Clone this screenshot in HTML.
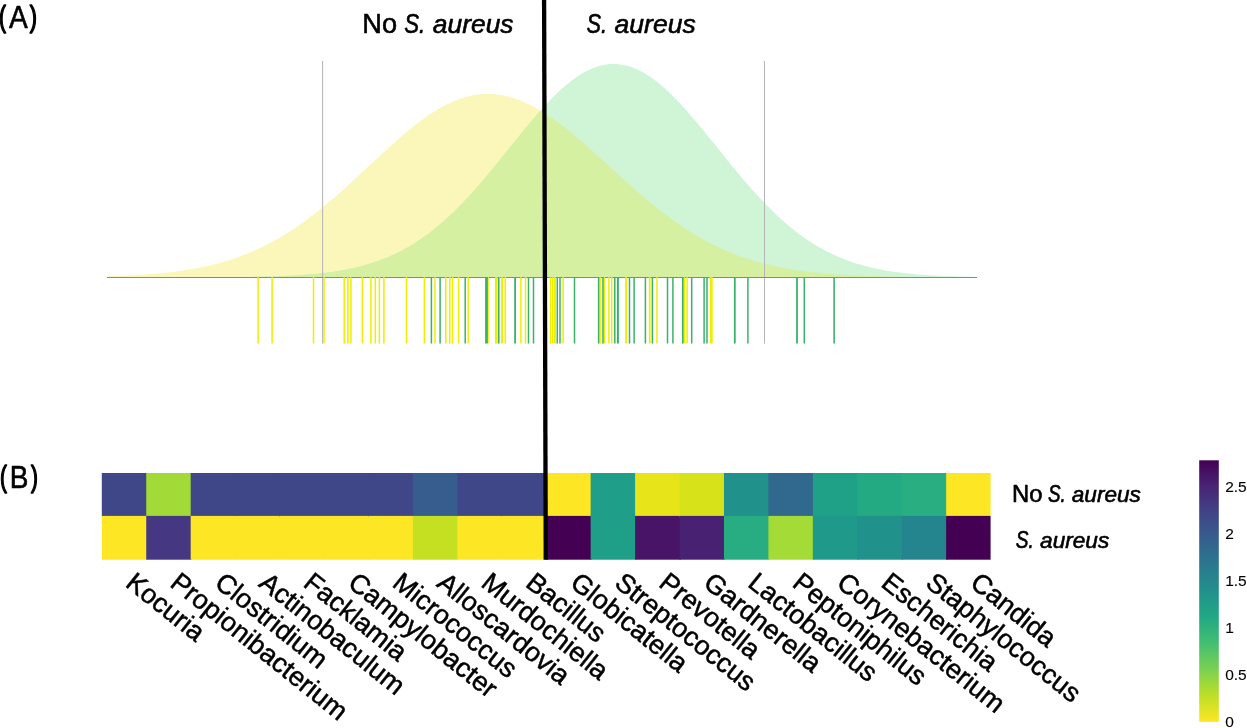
<!DOCTYPE html>
<html><head><meta charset="utf-8"><title>Figure</title>
<style>
html,body{margin:0;padding:0;background:#fff;}
body{width:1247px;height:728px;overflow:hidden;font-family:"Liberation Sans",sans-serif;}
svg{display:block;}
svg text{font-family:"Liberation Sans",sans-serif;fill:#000;}
.it{font-style:italic;}
</style></head><body>
<svg width="1247" height="728" viewBox="0 0 1247 728">
<rect x="0" y="0" width="1247" height="728" fill="#ffffff"/>
<path d="M107.0,277.40 L107.0,276.31 L110.0,276.22 L113.0,276.12 L116.0,276.02 L119.0,275.91 L122.0,275.79 L125.0,275.66 L128.0,275.52 L131.0,275.37 L134.0,275.21 L137.0,275.04 L140.0,274.86 L143.0,274.66 L146.0,274.46 L149.0,274.23 L152.0,274.00 L155.0,273.75 L158.0,273.48 L161.0,273.20 L164.0,272.90 L167.0,272.58 L170.0,272.24 L173.0,271.88 L176.0,271.51 L179.0,271.10 L182.0,270.68 L185.0,270.23 L188.0,269.76 L191.0,269.26 L194.0,268.73 L197.0,268.17 L200.0,267.59 L203.0,266.98 L206.0,266.33 L209.0,265.65 L212.0,264.94 L215.0,264.19 L218.0,263.41 L221.0,262.59 L224.0,261.73 L227.0,260.83 L230.0,259.89 L233.0,258.91 L236.0,257.89 L239.0,256.83 L242.0,255.72 L245.0,254.56 L248.0,253.36 L251.0,252.12 L254.0,250.82 L257.0,249.48 L260.0,248.09 L263.0,246.64 L266.0,245.15 L269.0,243.61 L272.0,242.01 L275.0,240.36 L278.0,238.66 L281.0,236.91 L284.0,235.11 L287.0,233.25 L290.0,231.35 L293.0,229.39 L296.0,227.38 L299.0,225.32 L302.0,223.20 L305.0,221.04 L308.0,218.83 L311.0,216.57 L314.0,214.27 L317.0,211.92 L320.0,209.52 L323.0,207.08 L326.0,204.60 L329.0,202.09 L332.0,199.53 L335.0,196.94 L338.0,194.32 L341.0,191.66 L344.0,188.98 L347.0,186.27 L350.0,183.53 L353.0,180.78 L356.0,178.01 L359.0,175.23 L362.0,172.43 L365.0,169.63 L368.0,166.82 L371.0,164.01 L374.0,161.20 L377.0,158.40 L380.0,155.61 L383.0,152.84 L386.0,150.08 L389.0,147.35 L392.0,144.64 L395.0,141.96 L398.0,139.31 L401.0,136.71 L404.0,134.14 L407.0,131.62 L410.0,129.15 L413.0,126.74 L416.0,124.38 L419.0,122.09 L422.0,119.86 L425.0,117.70 L428.0,115.62 L431.0,113.61 L434.0,111.69 L437.0,109.84 L440.0,108.09 L443.0,106.43 L446.0,104.86 L449.0,103.38 L452.0,102.01 L455.0,100.74 L458.0,99.57 L461.0,98.51 L464.0,97.55 L467.0,96.71 L470.0,95.98 L473.0,95.36 L476.0,94.86 L479.0,94.47 L482.0,94.20 L485.0,94.04 L488.0,94.00 L491.0,94.08 L494.0,94.26 L497.0,94.56 L500.0,94.97 L503.0,95.49 L506.0,96.11 L509.0,96.85 L512.0,97.69 L515.0,98.64 L518.0,99.69 L521.0,100.84 L524.0,102.09 L527.0,103.44 L530.0,104.88 L533.0,106.42 L536.0,108.04 L539.0,109.76 L542.0,111.55 L545.0,113.43 L548.0,115.38 L551.0,117.41 L554.0,119.51 L557.0,121.68 L560.0,123.91 L563.0,126.20 L566.0,128.55 L569.0,130.95 L572.0,133.40 L575.0,135.89 L578.0,138.43 L581.0,141.00 L584.0,143.61 L587.0,146.25 L590.0,148.91 L593.0,151.60 L596.0,154.31 L599.0,157.03 L602.0,159.76 L605.0,162.50 L608.0,165.25 L611.0,167.99 L614.0,170.74 L617.0,173.48 L620.0,176.21 L623.0,178.92 L626.0,181.63 L629.0,184.32 L632.0,186.98 L635.0,189.62 L638.0,192.24 L641.0,194.83 L644.0,197.39 L647.0,199.92 L650.0,202.42 L653.0,204.87 L656.0,207.29 L659.0,209.67 L662.0,212.01 L665.0,214.31 L668.0,216.56 L671.0,218.77 L674.0,220.94 L677.0,223.05 L680.0,225.12 L683.0,227.14 L686.0,229.12 L689.0,231.04 L692.0,232.91 L695.0,234.74 L698.0,236.51 L701.0,238.23 L704.0,239.91 L707.0,241.53 L710.0,243.11 L713.0,244.63 L716.0,246.11 L719.0,247.54 L722.0,248.92 L725.0,250.26 L728.0,251.54 L731.0,252.78 L734.0,253.98 L737.0,255.13 L740.0,256.24 L743.0,257.30 L746.0,258.32 L749.0,259.31 L752.0,260.25 L755.0,261.15 L758.0,262.02 L761.0,262.84 L764.0,263.63 L767.0,264.39 L770.0,265.11 L773.0,265.80 L776.0,266.46 L779.0,267.08 L782.0,267.68 L785.0,268.25 L788.0,268.79 L791.0,269.30 L794.0,269.79 L797.0,270.25 L800.0,270.69 L803.0,271.10 L806.0,271.49 L809.0,271.87 L812.0,272.22 L815.0,272.55 L818.0,272.86 L821.0,273.16 L824.0,273.44 L827.0,273.70 L830.0,273.95 L833.0,274.18 L836.0,274.40 L839.0,274.61 L842.0,274.80 L845.0,274.98 L848.0,275.15 L851.0,275.31 L854.0,275.46 L857.0,275.60 L860.0,275.73 L863.0,275.85 L866.0,275.97 L869.0,276.07 L872.0,276.17 L875.0,276.27 L878.0,276.35 L881.0,276.43 L884.0,276.51 L887.0,276.58 L890.0,276.64 L893.0,276.70 L896.0,276.76 L899.0,276.81 L902.0,276.86 L905.0,276.90 L908.0,276.94 L911.0,276.98 L914.0,277.01 L917.0,277.05 L920.0,277.08 L923.0,277.10 L926.0,277.13 L929.0,277.15 L932.0,277.17 L935.0,277.19 L938.0,277.21 L941.0,277.23 L944.0,277.24 L947.0,277.26 L950.0,277.27 L953.0,277.28 L956.0,277.29 L959.0,277.30 L962.0,277.31 L965.0,277.32 L968.0,277.33 L971.0,277.33 L974.0,277.34 L977.0,277.35 L977.0,277.40 Z" fill="#fbf6ba"/>
<path d="M107.0,277.40 L107.0,277.40 L110.0,277.40 L113.0,277.40 L116.0,277.40 L119.0,277.40 L122.0,277.40 L125.0,277.40 L128.0,277.40 L131.0,277.40 L134.0,277.39 L137.0,277.39 L140.0,277.39 L143.0,277.39 L146.0,277.39 L149.0,277.39 L152.0,277.39 L155.0,277.39 L158.0,277.39 L161.0,277.38 L164.0,277.38 L167.0,277.38 L170.0,277.38 L173.0,277.37 L176.0,277.37 L179.0,277.37 L182.0,277.36 L185.0,277.36 L188.0,277.35 L191.0,277.34 L194.0,277.34 L197.0,277.33 L200.0,277.32 L203.0,277.31 L206.0,277.30 L209.0,277.29 L212.0,277.28 L215.0,277.26 L218.0,277.25 L221.0,277.23 L224.0,277.21 L227.0,277.19 L230.0,277.16 L233.0,277.14 L236.0,277.11 L239.0,277.07 L242.0,277.04 L245.0,277.00 L248.0,276.96 L251.0,276.91 L254.0,276.86 L257.0,276.80 L260.0,276.74 L263.0,276.67 L266.0,276.60 L269.0,276.52 L272.0,276.43 L275.0,276.33 L278.0,276.23 L281.0,276.11 L284.0,275.99 L287.0,275.85 L290.0,275.71 L293.0,275.55 L296.0,275.38 L299.0,275.19 L302.0,274.99 L305.0,274.78 L308.0,274.55 L311.0,274.29 L314.0,274.02 L317.0,273.73 L320.0,273.42 L323.0,273.09 L326.0,272.73 L329.0,272.34 L332.0,271.93 L335.0,271.48 L338.0,271.01 L341.0,270.51 L344.0,269.97 L347.0,269.40 L350.0,268.79 L353.0,268.14 L356.0,267.45 L359.0,266.71 L362.0,265.94 L365.0,265.11 L368.0,264.24 L371.0,263.32 L374.0,262.35 L377.0,261.32 L380.0,260.24 L383.0,259.10 L386.0,257.90 L389.0,256.63 L392.0,255.31 L395.0,253.92 L398.0,252.46 L401.0,250.94 L404.0,249.34 L407.0,247.68 L410.0,245.94 L413.0,244.13 L416.0,242.24 L419.0,240.27 L422.0,238.23 L425.0,236.11 L428.0,233.91 L431.0,231.64 L434.0,229.28 L437.0,226.84 L440.0,224.33 L443.0,221.74 L446.0,219.07 L449.0,216.32 L452.0,213.49 L455.0,210.59 L458.0,207.62 L461.0,204.57 L464.0,201.46 L467.0,198.28 L470.0,195.03 L473.0,191.72 L476.0,188.35 L479.0,184.93 L482.0,181.45 L485.0,177.93 L488.0,174.36 L491.0,170.76 L494.0,167.12 L497.0,163.45 L500.0,159.76 L503.0,156.05 L506.0,152.32 L509.0,148.59 L512.0,144.86 L515.0,141.13 L518.0,137.41 L521.0,133.71 L524.0,130.04 L527.0,126.40 L530.0,122.80 L533.0,119.24 L536.0,115.74 L539.0,112.29 L542.0,108.92 L545.0,105.61 L548.0,102.39 L551.0,99.26 L554.0,96.22 L557.0,93.28 L560.0,90.45 L563.0,87.73 L566.0,85.14 L569.0,82.67 L572.0,80.33 L575.0,78.13 L578.0,76.08 L581.0,74.17 L584.0,72.41 L587.0,70.82 L590.0,69.38 L593.0,68.11 L596.0,67.00 L599.0,66.06 L602.0,65.30 L605.0,64.71 L608.0,64.30 L611.0,64.06 L614.0,64.00 L617.0,64.12 L620.0,64.42 L623.0,64.89 L626.0,65.54 L629.0,66.36 L632.0,67.35 L635.0,68.51 L638.0,69.84 L641.0,71.33 L644.0,72.98 L647.0,74.79 L650.0,76.75 L653.0,78.85 L656.0,81.10 L659.0,83.48 L662.0,85.99 L665.0,88.62 L668.0,91.38 L671.0,94.25 L674.0,97.22 L677.0,100.29 L680.0,103.46 L683.0,106.71 L686.0,110.03 L689.0,113.43 L692.0,116.90 L695.0,120.42 L698.0,123.99 L701.0,127.61 L704.0,131.26 L707.0,134.94 L710.0,138.65 L713.0,142.37 L716.0,146.10 L719.0,149.83 L722.0,153.56 L725.0,157.28 L728.0,160.99 L731.0,164.68 L734.0,168.34 L737.0,171.97 L740.0,175.56 L743.0,179.11 L746.0,182.62 L749.0,186.08 L752.0,189.48 L755.0,192.83 L758.0,196.12 L761.0,199.34 L764.0,202.50 L767.0,205.60 L770.0,208.62 L773.0,211.57 L776.0,214.44 L779.0,217.24 L782.0,219.96 L785.0,222.61 L788.0,225.18 L791.0,227.67 L794.0,230.07 L797.0,232.40 L800.0,234.65 L803.0,236.83 L806.0,238.92 L809.0,240.94 L812.0,242.87 L815.0,244.74 L818.0,246.53 L821.0,248.24 L824.0,249.88 L827.0,251.45 L830.0,252.96 L833.0,254.39 L836.0,255.76 L839.0,257.06 L842.0,258.30 L845.0,259.48 L848.0,260.60 L851.0,261.67 L854.0,262.68 L857.0,263.63 L860.0,264.54 L863.0,265.39 L866.0,266.20 L869.0,266.96 L872.0,267.68 L875.0,268.36 L878.0,268.99 L881.0,269.59 L884.0,270.15 L887.0,270.68 L890.0,271.17 L893.0,271.63 L896.0,272.07 L899.0,272.47 L902.0,272.85 L905.0,273.20 L908.0,273.53 L911.0,273.83 L914.0,274.12 L917.0,274.38 L920.0,274.63 L923.0,274.85 L926.0,275.06 L929.0,275.26 L932.0,275.44 L935.0,275.61 L938.0,275.76 L941.0,275.90 L944.0,276.03 L947.0,276.15 L950.0,276.26 L953.0,276.36 L956.0,276.46 L959.0,276.54 L962.0,276.62 L965.0,276.69 L968.0,276.76 L971.0,276.82 L974.0,276.88 L977.0,276.93 L977.0,277.40 Z" fill="#cff4d6"/>
<path d="M107.0,277.40 L107.0,277.40 L110.0,277.40 L113.0,277.40 L116.0,277.40 L119.0,277.40 L122.0,277.40 L125.0,277.40 L128.0,277.40 L131.0,277.40 L134.0,277.39 L137.0,277.39 L140.0,277.39 L143.0,277.39 L146.0,277.39 L149.0,277.39 L152.0,277.39 L155.0,277.39 L158.0,277.39 L161.0,277.38 L164.0,277.38 L167.0,277.38 L170.0,277.38 L173.0,277.37 L176.0,277.37 L179.0,277.37 L182.0,277.36 L185.0,277.36 L188.0,277.35 L191.0,277.34 L194.0,277.34 L197.0,277.33 L200.0,277.32 L203.0,277.31 L206.0,277.30 L209.0,277.29 L212.0,277.28 L215.0,277.26 L218.0,277.25 L221.0,277.23 L224.0,277.21 L227.0,277.19 L230.0,277.16 L233.0,277.14 L236.0,277.11 L239.0,277.07 L242.0,277.04 L245.0,277.00 L248.0,276.96 L251.0,276.91 L254.0,276.86 L257.0,276.80 L260.0,276.74 L263.0,276.67 L266.0,276.60 L269.0,276.52 L272.0,276.43 L275.0,276.33 L278.0,276.23 L281.0,276.11 L284.0,275.99 L287.0,275.85 L290.0,275.71 L293.0,275.55 L296.0,275.38 L299.0,275.19 L302.0,274.99 L305.0,274.78 L308.0,274.55 L311.0,274.29 L314.0,274.02 L317.0,273.73 L320.0,273.42 L323.0,273.09 L326.0,272.73 L329.0,272.34 L332.0,271.93 L335.0,271.48 L338.0,271.01 L341.0,270.51 L344.0,269.97 L347.0,269.40 L350.0,268.79 L353.0,268.14 L356.0,267.45 L359.0,266.71 L362.0,265.94 L365.0,265.11 L368.0,264.24 L371.0,263.32 L374.0,262.35 L377.0,261.32 L380.0,260.24 L383.0,259.10 L386.0,257.90 L389.0,256.63 L392.0,255.31 L395.0,253.92 L398.0,252.46 L401.0,250.94 L404.0,249.34 L407.0,247.68 L410.0,245.94 L413.0,244.13 L416.0,242.24 L419.0,240.27 L422.0,238.23 L425.0,236.11 L428.0,233.91 L431.0,231.64 L434.0,229.28 L437.0,226.84 L440.0,224.33 L443.0,221.74 L446.0,219.07 L449.0,216.32 L452.0,213.49 L455.0,210.59 L458.0,207.62 L461.0,204.57 L464.0,201.46 L467.0,198.28 L470.0,195.03 L473.0,191.72 L476.0,188.35 L479.0,184.93 L482.0,181.45 L485.0,177.93 L488.0,174.36 L491.0,170.76 L494.0,167.12 L497.0,163.45 L500.0,159.76 L503.0,156.05 L506.0,152.32 L509.0,148.59 L512.0,144.86 L515.0,141.13 L518.0,137.41 L521.0,133.71 L524.0,130.04 L527.0,126.40 L530.0,122.80 L533.0,119.24 L536.0,115.74 L539.0,112.29 L542.0,111.55 L545.0,113.43 L548.0,115.38 L551.0,117.41 L554.0,119.51 L557.0,121.68 L560.0,123.91 L563.0,126.20 L566.0,128.55 L569.0,130.95 L572.0,133.40 L575.0,135.89 L578.0,138.43 L581.0,141.00 L584.0,143.61 L587.0,146.25 L590.0,148.91 L593.0,151.60 L596.0,154.31 L599.0,157.03 L602.0,159.76 L605.0,162.50 L608.0,165.25 L611.0,167.99 L614.0,170.74 L617.0,173.48 L620.0,176.21 L623.0,178.92 L626.0,181.63 L629.0,184.32 L632.0,186.98 L635.0,189.62 L638.0,192.24 L641.0,194.83 L644.0,197.39 L647.0,199.92 L650.0,202.42 L653.0,204.87 L656.0,207.29 L659.0,209.67 L662.0,212.01 L665.0,214.31 L668.0,216.56 L671.0,218.77 L674.0,220.94 L677.0,223.05 L680.0,225.12 L683.0,227.14 L686.0,229.12 L689.0,231.04 L692.0,232.91 L695.0,234.74 L698.0,236.51 L701.0,238.23 L704.0,239.91 L707.0,241.53 L710.0,243.11 L713.0,244.63 L716.0,246.11 L719.0,247.54 L722.0,248.92 L725.0,250.26 L728.0,251.54 L731.0,252.78 L734.0,253.98 L737.0,255.13 L740.0,256.24 L743.0,257.30 L746.0,258.32 L749.0,259.31 L752.0,260.25 L755.0,261.15 L758.0,262.02 L761.0,262.84 L764.0,263.63 L767.0,264.39 L770.0,265.11 L773.0,265.80 L776.0,266.46 L779.0,267.08 L782.0,267.68 L785.0,268.25 L788.0,268.79 L791.0,269.30 L794.0,269.79 L797.0,270.25 L800.0,270.69 L803.0,271.10 L806.0,271.49 L809.0,271.87 L812.0,272.22 L815.0,272.55 L818.0,272.86 L821.0,273.16 L824.0,273.44 L827.0,273.70 L830.0,273.95 L833.0,274.18 L836.0,274.40 L839.0,274.61 L842.0,274.80 L845.0,274.98 L848.0,275.15 L851.0,275.31 L854.0,275.46 L857.0,275.60 L860.0,275.73 L863.0,275.85 L866.0,275.97 L869.0,276.07 L872.0,276.17 L875.0,276.27 L878.0,276.35 L881.0,276.43 L884.0,276.51 L887.0,276.58 L890.0,276.64 L893.0,276.70 L896.0,276.76 L899.0,276.81 L902.0,276.86 L905.0,276.90 L908.0,276.94 L911.0,276.98 L914.0,277.01 L917.0,277.05 L920.0,277.08 L923.0,277.10 L926.0,277.13 L929.0,277.15 L932.0,277.17 L935.0,277.19 L938.0,277.21 L941.0,277.23 L944.0,277.24 L947.0,277.26 L950.0,277.27 L953.0,277.28 L956.0,277.29 L959.0,277.30 L962.0,277.31 L965.0,277.32 L968.0,277.33 L971.0,277.33 L974.0,277.34 L977.0,277.35 L977.0,277.40 Z" fill="#d4f0a0"/>
<rect x="322.10" y="61" width="1" height="282.5" fill="#b4b4b4"/>
<rect x="764.00" y="61" width="1" height="282.5" fill="#b4b4b4"/>
<rect x="107" y="277" width="870" height="1" fill="#7b9470"/>
<g>
<rect x="257.35" y="277.1" width="1.50" height="66.4" fill="#eeee00"/>
<rect x="271.35" y="277.1" width="1.50" height="66.4" fill="#eeee00"/>
<rect x="312.75" y="277.1" width="1.50" height="66.4" fill="#eeee00"/>
<rect x="323.25" y="277.1" width="1.50" height="66.4" fill="#eeee00"/>
<rect x="343.45" y="277.1" width="1.50" height="66.4" fill="#eeee00"/>
<rect x="347.15" y="277.1" width="1.50" height="66.4" fill="#eeee00"/>
<rect x="350.15" y="277.1" width="1.50" height="66.4" fill="#eeee00"/>
<rect x="361.65" y="277.1" width="1.50" height="66.4" fill="#eeee00"/>
<rect x="370.15" y="277.1" width="1.50" height="66.4" fill="#eeee00"/>
<rect x="374.55" y="277.1" width="1.50" height="66.4" fill="#eeee00"/>
<rect x="378.65" y="277.1" width="1.50" height="66.4" fill="#eeee00"/>
<rect x="383.15" y="277.1" width="1.50" height="66.4" fill="#eeee00"/>
<rect x="405.75" y="277.1" width="1.50" height="66.4" fill="#eeee00"/>
<rect x="423.65" y="277.1" width="1.50" height="66.4" fill="#eeee00"/>
<rect x="430.65" y="277.1" width="1.50" height="66.4" fill="#3bb26c"/>
<rect x="434.25" y="277.1" width="1.50" height="66.4" fill="#eeee00"/>
<rect x="439.35" y="277.1" width="1.50" height="66.4" fill="#3bb26c"/>
<rect x="445.05" y="277.1" width="1.50" height="66.4" fill="#eeee00"/>
<rect x="449.05" y="277.1" width="1.50" height="66.4" fill="#eeee00"/>
<rect x="451.85" y="277.1" width="1.50" height="66.4" fill="#eeee00"/>
<rect x="457.85" y="277.1" width="1.50" height="66.4" fill="#eeee00"/>
<rect x="464.45" y="277.1" width="1.50" height="66.4" fill="#3bb26c"/>
<rect x="467.45" y="277.1" width="1.50" height="66.4" fill="#eeee00"/>
<rect x="488.10" y="277.1" width="0.80" height="66.4" fill="#eeee00"/>
<rect x="485.10" y="277.1" width="2.80" height="66.4" fill="#3bb26c"/>
<rect x="494.90" y="277.1" width="2.60" height="66.4" fill="#eeee00"/>
<rect x="498.80" y="277.1" width="1.20" height="66.4" fill="#eeee00"/>
<rect x="497.90" y="277.1" width="1.40" height="66.4" fill="#3bb26c"/>
<rect x="501.10" y="277.1" width="2.00" height="66.4" fill="#eeee00"/>
<rect x="504.50" y="277.1" width="1.60" height="66.4" fill="#eeee00"/>
<rect x="514.20" y="277.1" width="1.80" height="66.4" fill="#3bb26c"/>
<rect x="520.15" y="277.1" width="1.50" height="66.4" fill="#eeee00"/>
<rect x="524.75" y="277.1" width="1.50" height="66.4" fill="#eeee00"/>
<rect x="527.75" y="277.1" width="1.50" height="66.4" fill="#3bb26c"/>
<rect x="532.75" y="277.1" width="1.50" height="66.4" fill="#3bb26c"/>
<rect x="549.85" y="277.1" width="1.50" height="66.4" fill="#eeee00"/>
<rect x="552.00" y="277.1" width="1.50" height="66.4" fill="#eeee00"/>
<rect x="553.90" y="277.1" width="2.00" height="66.4" fill="#eeee00"/>
<rect x="556.55" y="277.1" width="1.50" height="66.4" fill="#3bb26c"/>
<rect x="559.25" y="277.1" width="1.50" height="66.4" fill="#3bb26c"/>
<rect x="562.35" y="277.1" width="1.50" height="66.4" fill="#eeee00"/>
<rect x="573.75" y="277.1" width="1.50" height="66.4" fill="#3bb26c"/>
<rect x="599.35" y="277.1" width="1.50" height="66.4" fill="#eeee00"/>
<rect x="597.85" y="277.1" width="1.50" height="66.4" fill="#3bb26c"/>
<rect x="603.75" y="277.1" width="1.50" height="66.4" fill="#eeee00"/>
<rect x="602.25" y="277.1" width="1.50" height="66.4" fill="#3bb26c"/>
<rect x="608.15" y="277.1" width="1.50" height="66.4" fill="#eeee00"/>
<rect x="610.95" y="277.1" width="1.50" height="66.4" fill="#eeee00"/>
<rect x="614.05" y="277.1" width="1.50" height="66.4" fill="#3bb26c"/>
<rect x="616.90" y="277.1" width="2.00" height="66.4" fill="#3bb26c"/>
<rect x="625.20" y="277.1" width="1.80" height="66.4" fill="#eeee00"/>
<rect x="628.75" y="277.1" width="1.50" height="66.4" fill="#3bb26c"/>
<rect x="633.35" y="277.1" width="1.50" height="66.4" fill="#3bb26c"/>
<rect x="644.65" y="277.1" width="1.50" height="66.4" fill="#3bb26c"/>
<rect x="648.80" y="277.1" width="1.80" height="66.4" fill="#eeee00"/>
<rect x="651.65" y="277.1" width="1.50" height="66.4" fill="#3bb26c"/>
<rect x="656.25" y="277.1" width="1.50" height="66.4" fill="#eeee00"/>
<rect x="666.75" y="277.1" width="1.50" height="66.4" fill="#3bb26c"/>
<rect x="672.15" y="277.1" width="1.50" height="66.4" fill="#3bb26c"/>
<rect x="683.50" y="277.1" width="1.60" height="66.4" fill="#eeee00"/>
<rect x="682.00" y="277.1" width="1.60" height="66.4" fill="#3bb26c"/>
<rect x="686.35" y="277.1" width="1.50" height="66.4" fill="#eeee00"/>
<rect x="690.95" y="277.1" width="1.50" height="66.4" fill="#3bb26c"/>
<rect x="703.35" y="277.1" width="1.50" height="66.4" fill="#3bb26c"/>
<rect x="706.25" y="277.1" width="1.50" height="66.4" fill="#3bb26c"/>
<rect x="709.70" y="277.1" width="3.00" height="66.4" fill="#eeee00"/>
<rect x="733.90" y="277.1" width="1.80" height="66.4" fill="#3bb26c"/>
<rect x="747.15" y="277.1" width="1.50" height="66.4" fill="#3bb26c"/>
<rect x="796.10" y="277.1" width="1.80" height="66.4" fill="#3bb26c"/>
<rect x="803.55" y="277.1" width="1.50" height="66.4" fill="#3bb26c"/>
<rect x="833.30" y="277.1" width="1.60" height="66.4" fill="#3bb26c"/>
</g>
<g>
<rect x="101.80" y="473.00" width="45.64" height="43.90" fill="#3f4788"/><rect x="101.80" y="515.90" width="45.64" height="43.80" fill="#fde725"/>
<rect x="146.24" y="473.00" width="45.64" height="43.90" fill="#a2da37"/><rect x="146.24" y="515.90" width="45.64" height="43.80" fill="#453781"/>
<rect x="190.68" y="473.00" width="45.64" height="43.90" fill="#3f4788"/><rect x="190.68" y="515.90" width="45.64" height="43.80" fill="#fde725"/>
<rect x="235.12" y="473.00" width="45.64" height="43.90" fill="#3f4788"/><rect x="235.12" y="515.90" width="45.64" height="43.80" fill="#fde725"/>
<rect x="279.56" y="473.00" width="45.64" height="43.90" fill="#3f4788"/><rect x="279.56" y="515.90" width="45.64" height="43.80" fill="#fde725"/>
<rect x="324.00" y="473.00" width="45.64" height="43.90" fill="#3f4788"/><rect x="324.00" y="515.90" width="45.64" height="43.80" fill="#fde725"/>
<rect x="368.44" y="473.00" width="45.64" height="43.90" fill="#3f4788"/><rect x="368.44" y="515.90" width="45.64" height="43.80" fill="#fde725"/>
<rect x="412.88" y="473.00" width="45.64" height="43.90" fill="#365d8d"/><rect x="412.88" y="515.90" width="45.64" height="43.80" fill="#c5e021"/>
<rect x="457.32" y="473.00" width="45.64" height="43.90" fill="#3f4788"/><rect x="457.32" y="515.90" width="45.64" height="43.80" fill="#fde725"/>
<rect x="501.76" y="473.00" width="45.64" height="43.90" fill="#3f4788"/><rect x="501.76" y="515.90" width="45.64" height="43.80" fill="#fde725"/>
<rect x="546.20" y="473.00" width="45.64" height="43.90" fill="#fde725"/><rect x="546.20" y="515.90" width="45.64" height="43.80" fill="#440154"/>
<rect x="590.64" y="473.00" width="45.64" height="43.90" fill="#1f9e89"/><rect x="590.64" y="515.90" width="45.64" height="43.80" fill="#1f9f88"/>
<rect x="635.08" y="473.00" width="45.64" height="43.90" fill="#e7e419"/><rect x="635.08" y="515.90" width="45.64" height="43.80" fill="#481467"/>
<rect x="679.52" y="473.00" width="45.64" height="43.90" fill="#d8e219"/><rect x="679.52" y="515.90" width="45.64" height="43.80" fill="#482173"/>
<rect x="723.96" y="473.00" width="45.64" height="43.90" fill="#21918c"/><rect x="723.96" y="515.90" width="45.64" height="43.80" fill="#27ad81"/>
<rect x="768.40" y="473.00" width="45.64" height="43.90" fill="#31688e"/><rect x="768.40" y="515.90" width="45.64" height="43.80" fill="#a5db36"/>
<rect x="812.84" y="473.00" width="45.64" height="43.90" fill="#1fa187"/><rect x="812.84" y="515.90" width="45.64" height="43.80" fill="#1f9a8a"/>
<rect x="857.28" y="473.00" width="45.64" height="43.90" fill="#24aa83"/><rect x="857.28" y="515.90" width="45.64" height="43.80" fill="#21918c"/>
<rect x="901.72" y="473.00" width="45.64" height="43.90" fill="#28ae80"/><rect x="901.72" y="515.90" width="45.64" height="43.80" fill="#25858e"/>
<rect x="946.16" y="473.00" width="45.64" height="43.90" fill="#fde725"/><rect x="946.16" y="515.90" width="45.64" height="43.80" fill="#440154"/>
</g>
<rect x="990.60" y="470" width="3" height="92" fill="#fff"/>
<line x1="544.1" y1="-1" x2="545.75" y2="559.7" stroke="#000" stroke-width="4.3"/>
<defs><filter id="nf" color-interpolation-filters="sRGB" filterUnits="userSpaceOnUse" x="0" y="0" width="1247" height="728"><feOffset dx="0" dy="0"/></filter><linearGradient id="vir" x1="0" y1="1" x2="0" y2="0"><stop offset="0.0" stop-color="#fde725"/><stop offset="0.1" stop-color="#bddf26"/><stop offset="0.2" stop-color="#7ad151"/><stop offset="0.3" stop-color="#44bf70"/><stop offset="0.4" stop-color="#22a884"/><stop offset="0.5" stop-color="#21918c"/><stop offset="0.6" stop-color="#2a788e"/><stop offset="0.7" stop-color="#355f8d"/><stop offset="0.8" stop-color="#414487"/><stop offset="0.9" stop-color="#482475"/><stop offset="1.0" stop-color="#440154"/></linearGradient></defs>
<rect x="1199.2" y="460.3" width="19.6" height="261.6" fill="url(#vir)"/>
<g filter="url(#nf)" stroke="#000" stroke-width="0.12">
<text vector-effect="non-scaling-stroke" transform="translate(1225.2,727.15) scale(1.55,1.46)" font-size="10">0</text>
<text vector-effect="non-scaling-stroke" transform="translate(1225.2,680.10) scale(1.55,1.46)" font-size="10">0.5</text>
<text vector-effect="non-scaling-stroke" transform="translate(1225.2,633.05) scale(1.55,1.46)" font-size="10">1</text>
<text vector-effect="non-scaling-stroke" transform="translate(1225.2,586.00) scale(1.55,1.46)" font-size="10">1.5</text>
<text vector-effect="non-scaling-stroke" transform="translate(1225.2,538.95) scale(1.55,1.46)" font-size="10">2</text>
<text vector-effect="non-scaling-stroke" transform="translate(1225.2,491.90) scale(1.55,1.46)" font-size="10">2.5</text>
</g>
<g filter="url(#nf)" stroke="#000" stroke-width="0.6" stroke-linejoin="round" style="vector-effect:non-scaling-stroke">
<text vector-effect="non-scaling-stroke" transform="translate(-0.91,26.70) scale(2.0952,2.9931)" font-size="10" stroke-width="1.3">(</text><text vector-effect="non-scaling-stroke" transform="translate(8.88,28.10) scale(2.8151,3.1564)" font-size="10">A</text><text vector-effect="non-scaling-stroke" transform="translate(29.84,26.70) scale(2.1714,2.9931)" font-size="10" stroke-width="1.3">)</text>
<text vector-effect="non-scaling-stroke" transform="translate(0.06,486.90) scale(2.0724,2.9931)" font-size="10" stroke-width="1.3">(</text><text vector-effect="non-scaling-stroke" transform="translate(9.69,488.00) scale(2.7981,3.1200)" font-size="10">B</text><text vector-effect="non-scaling-stroke" transform="translate(31.04,486.90) scale(2.0762,2.9931)" font-size="10" stroke-width="1.3">)</text>
<text vector-effect="non-scaling-stroke" transform="translate(362.26,32.70) scale(2.7186,2.8131)" font-size="10">No</text><text vector-effect="non-scaling-stroke" transform="translate(404.19,32.70) scale(2.2264,2.7957)" font-size="10" class="it">S.</text><text vector-effect="non-scaling-stroke" transform="translate(432.81,32.70) scale(2.6434,2.6605)" font-size="10" class="it">aureus</text>
<text vector-effect="non-scaling-stroke" transform="translate(586.40,32.70) scale(2.1761,2.7957)" font-size="10" class="it">S.</text><text vector-effect="non-scaling-stroke" transform="translate(614.60,32.70) scale(2.6534,2.6605)" font-size="10" class="it">aureus</text>
<text vector-effect="non-scaling-stroke" transform="translate(1012.04,502.00) scale(2.3810,2.3127)" font-size="10">No</text><text vector-effect="non-scaling-stroke" transform="translate(1047.88,502.00) scale(1.8868,2.3656)" font-size="10" class="it">S.</text><text vector-effect="non-scaling-stroke" transform="translate(1071.79,502.00) scale(2.2587,2.2326)" font-size="10" class="it">aureus</text>
<text vector-effect="non-scaling-stroke" transform="translate(1015.87,547.70) scale(1.9119,2.3656)" font-size="10" class="it">S.</text><text vector-effect="non-scaling-stroke" transform="translate(1040.09,547.70) scale(2.2620,2.2326)" font-size="10" class="it">aureus</text>
</g>
<g filter="url(#nf)" stroke="#000" stroke-width="0.5" stroke-linejoin="round">
<text transform="translate(124.30,585.40) rotate(38.7)" font-size="27.0">Kocuria</text>
<text transform="translate(168.74,585.40) rotate(38.7)" font-size="27.0">Propionibacterium</text>
<text transform="translate(213.18,585.40) rotate(38.7)" font-size="27.0">Clostridium</text>
<text transform="translate(257.62,585.40) rotate(38.7)" font-size="27.0">Actinobaculum</text>
<text transform="translate(302.06,585.40) rotate(38.7)" font-size="27.0">Facklamia</text>
<text transform="translate(346.50,585.40) rotate(38.7)" font-size="27.0">Campylobacter</text>
<text transform="translate(390.94,585.40) rotate(38.7)" font-size="27.0">Micrococcus</text>
<text transform="translate(435.38,585.40) rotate(38.7)" font-size="27.0">Alloscardovia</text>
<text transform="translate(479.82,585.40) rotate(38.7)" font-size="27.0">Murdochiella</text>
<text transform="translate(524.26,585.40) rotate(38.7)" font-size="27.0">Bacillus</text>
<text transform="translate(568.70,585.40) rotate(38.7)" font-size="27.0">Globicatella</text>
<text transform="translate(613.14,585.40) rotate(38.7)" font-size="27.0">Streptococcus</text>
<text transform="translate(657.58,585.40) rotate(38.7)" font-size="27.0">Prevotella</text>
<text transform="translate(702.02,585.40) rotate(38.7)" font-size="27.0">Gardnerella</text>
<text transform="translate(746.46,585.40) rotate(38.7)" font-size="27.0">Lactobacillus</text>
<text transform="translate(790.90,585.40) rotate(38.7)" font-size="27.0">Peptoniphilus</text>
<text transform="translate(835.34,585.40) rotate(38.7)" font-size="27.0">Corynebacterium</text>
<text transform="translate(879.78,585.40) rotate(38.7)" font-size="27.0">Escherichia</text>
<text transform="translate(924.22,585.40) rotate(38.7)" font-size="27.0">Staphylococcus</text>
<text transform="translate(968.66,585.40) rotate(38.7)" font-size="27.0">Candida</text>
</g>
</svg>
</body></html>
